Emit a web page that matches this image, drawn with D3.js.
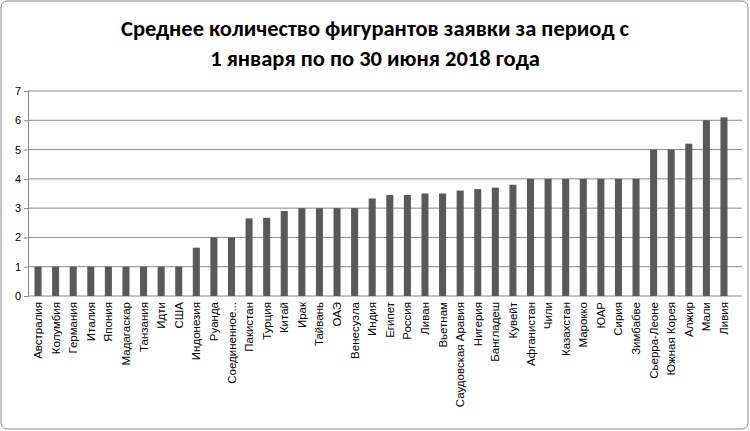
<!DOCTYPE html>
<html><head><meta charset="utf-8">
<script src="https://cdn.jsdelivr.net/npm/d3@7"></script>
<style>body{margin:0;background:#fff}</style>
</head><body>
<svg id="chart"></svg>
<script>
const categories = ['Австралия','Колумбия','Германия','Италия','Япония','Мадагаскар','Танзания','Идти','США','Индонезия','Руанда','Соединенное...','Пакистан','Турция','Китай','Ирак','Тайвань','ОАЭ','Венесуэла','Индия','Египет','Россия','Ливан','Вьетнам','Саудовская Аравия','Нигерия','Бангладеш','Кувейт','Афганистан','Чили','Казахстан','Марокко','ЮАР','Сирия','Зимбабве','Сьерра-Леоне','Южная Корея','Алжир','Мали','Ливия'];
const values = [1,1,1,1,1,1,1,1,1,1.65,2,2,2.65,2.67,2.9,3,3,3,3,3.33,3.45,3.45,3.5,3.5,3.6,3.65,3.7,3.8,4,4,4,4,4,4,4,5,5,5.2,6,6.1];
const yTicks = [0,1,2,3,4,5,6,7];
const titleLines = ['Среднее количество фигурантов заявки за период с','1 января по по 30 июня 2018 года'];

const W = 750, H = 431;
const margin = { top: 91, right: 8, bottom: 135, left: 28 };
const width = W - margin.left - margin.right;
const height = H - margin.top - margin.bottom;

const svg = d3.select('#chart').attr('width', W).attr('height', H)
  .style('font-family', 'Calibri, Carlito, "Liberation Sans", Arial, sans-serif');

svg.append('rect').attr('x', 1).attr('y', 1).attr('width', W - 3).attr('height', H - 3)
  .attr('rx', 6).attr('fill', '#fff').attr('stroke', '#888');

svg.selectAll('.title').data(titleLines).enter().append('text')
  .attr('x', W / 2).attr('y', (d, i) => 36 + i * 30)
  .attr('text-anchor', 'middle').attr('font-size', 22.5).attr('font-weight', 'bold')
  .text(d => d);

const g = svg.append('g').attr('transform', `translate(${margin.left},${margin.top})`);

const x = d3.scaleBand().domain(categories).range([0, 706]).paddingInner(0.6).paddingOuter(0.37);
const y = d3.scaleLinear().domain([0, 7]).range([height, 0]);

// gridlines
g.selectAll('.grid').data(yTicks).enter().append('line')
  .attr('x1', 0).attr('x2', width)
  .attr('y1', d => y(d)).attr('y2', d => y(d))
  .attr('stroke', '#888').attr('stroke-width', 1);

g.selectAll('.bar').data(values).enter().append('rect')
  .attr('x', (d, i) => x(categories[i]))
  .attr('y', d => y(d))
  .attr('width', x.bandwidth())
  .attr('height', d => height - y(d))
  .attr('fill', '#595959');

const yAxis = g.append('g').call(d3.axisLeft(y).tickValues(yTicks).tickSize(4).tickFormat(d3.format('d')));
yAxis.select('.domain').attr('stroke', '#888');
yAxis.selectAll('line').attr('stroke', '#888');
yAxis.selectAll('text').attr('font-size', 11).attr('fill', '#000');

const xAxis = g.append('g').attr('transform', `translate(0,${height})`)
  .call(d3.axisBottom(x).tickSize(0).tickSizeOuter(0));
xAxis.select('.domain').remove();
xAxis.selectAll('text')
  .attr('font-size', 11.5).attr('fill', '#000')
  .attr('transform', 'rotate(-90)')
  .attr('text-anchor', 'end')
  .attr('x', -6).attr('y', 0).attr('dy', '0.35em');
</script>
</body></html>
